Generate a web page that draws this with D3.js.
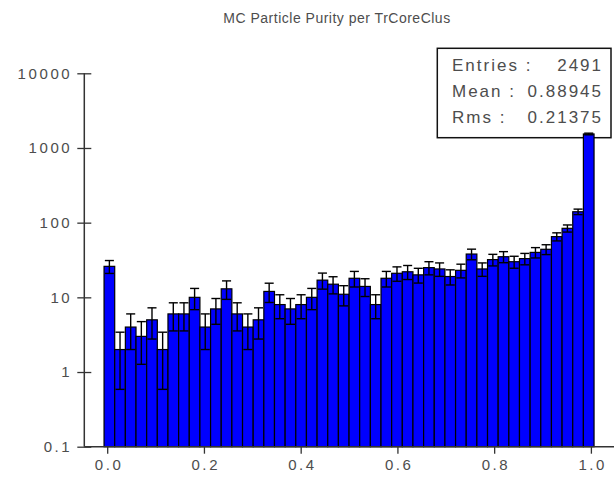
<!DOCTYPE html>
<html>
<head>
<meta charset="utf-8">
<script src="https://cdn.jsdelivr.net/npm/d3@7/dist/d3.min.js"></script>
<style>
  html, body { margin: 0; padding: 0; background: #fff; }
  svg { display: block; font-family: "Liberation Sans", Arial, sans-serif; }
</style>
</head>
<body>
<svg id="chart" width="614" height="491"></svg>
<script>
// ---- data ----
const title = "MC Particle Purity per TrCoreClus";
const binMin = -0.0065;
const binMax = 1.0065;
const counts = [26,2,4,3,5,2,6,6,10,4,7,13,
                6,4,5,12,8,7,8,10,17,15,11,
                18,14,8,18,21,22,20,25,24,19,23,
                38,24,32,35,30,33,40,44,65,84,140,
                1540];
const xTicks = [0.0, 0.2, 0.4, 0.6, 0.8, 1.0];
const yTicks = [0.1, 1, 10, 100, 1000, 10000];
const yTickLabels = ["0.1", "1", "10", "100", "1000", "10000"];
const statLabels = ["Entries :", "Mean :", "Rms :"];
const statValues = ["2491", "0.88945", "0.21375"];

// ---- layout ----
const svg = d3.select("#chart");
const W = 614, H = 491;
const x = d3.scaleLinear().domain([0, 1]).range([107.2, 590.9]);
const y = d3.scaleLog().domain([0.1, 10000]).range([446.7, 73.3]);
const axisX0 = 84.3, axisY0 = 446.7;
const nb = counts.length;
const bw = (binMax - binMin) / nb;
const bins = counts.map((c, i) => ({ lo: binMin + i * bw, hi: binMin + (i + 1) * bw, n: c }));
const textCol = "#4d4d4d";

// title
svg.append("text")
  .attr("x", 337).attr("y", 23)
  .attr("text-anchor", "middle")
  .attr("font-size", 14)
  .attr("letter-spacing", 0.5)
  .attr("fill", textCol)
  .text(title);

// stats box (drawn under bars)
const box = svg.append("g");
box.append("rect")
  .attr("x", 437.3).attr("y", 48.3)
  .attr("width", 611 - 437.3).attr("height", 137.7 - 48.3)
  .attr("fill", "#fff").attr("stroke", "#111").attr("stroke-width", 1.5);
const rowY = [71, 96.5, 123];
statLabels.forEach((s, i) => {
  box.append("text").attr("x", 452).attr("y", rowY[i])
    .attr("font-size", 17).attr("letter-spacing", 2).attr("fill", textCol).text(s);
  box.append("text").attr("x", 603).attr("y", rowY[i])
    .attr("text-anchor", "end")
    .attr("font-size", 17).attr("letter-spacing", 2).attr("fill", textCol).text(statValues[i]);
});

// bars
const barsG = svg.append("g");
barsG.selectAll("rect").data(bins).join("rect")
  .attr("x", d => x(d.lo))
  .attr("y", d => y(d.n))
  .attr("width", d => x(d.hi) - x(d.lo))
  .attr("height", d => y(0.1) - y(d.n))
  .attr("fill", "#0000ff")
  .attr("stroke", "#000")
  .attr("stroke-width", 1.2);

// error bars
const errG = svg.append("g").attr("stroke", "#000").attr("stroke-width", 1.4);
bins.forEach(d => {
  const cx = x((d.lo + d.hi) / 2);
  const e = Math.sqrt(d.n);
  const top = y(d.n + e);
  const lowV = d.n - e;
  const bot = lowV > 0.1 ? y(lowV) : y(0.1);
  const half = (x(d.hi) - x(d.lo)) / 2 - 0.8;
  errG.append("line").attr("x1", cx).attr("x2", cx).attr("y1", top).attr("y2", bot);
  errG.append("line").attr("x1", cx - half).attr("x2", cx + half).attr("y1", top).attr("y2", top);
  if (lowV > 0.1) {
    errG.append("line").attr("x1", cx - half).attr("x2", cx + half).attr("y1", bot).attr("y2", bot);
  }
});

// y axis
const yAxis = d3.axisLeft(y).tickValues(yTicks)
  .tickFormat((d, i) => yTickLabels[i]).tickSize(7).tickPadding(5);
const gy = svg.append("g").attr("transform", `translate(${axisX0},0)`).call(yAxis);
gy.select(".domain").remove();
gy.selectAll(".tick line").attr("x1", 7).attr("stroke", "#333").attr("stroke-width", 1.3);
gy.selectAll(".tick text").attr("font-size", 15).attr("letter-spacing", 2.6)
  .attr("fill", textCol).attr("font-family", "Liberation Sans, Arial, sans-serif");
svg.append("line").attr("x1", axisX0).attr("x2", axisX0).attr("y1", y(10000)).attr("y2", axisY0)
  .attr("stroke", "#333").attr("stroke-width", 1.5);

// x axis
const xAxis = d3.axisBottom(x).tickValues(xTicks).tickFormat(d3.format(".1f")).tickSize(7).tickPadding(6);
const gx = svg.append("g").attr("transform", `translate(0,${axisY0})`).call(xAxis);
gx.select(".domain").remove();
gx.selectAll(".tick line").attr("stroke", "#333").attr("stroke-width", 1.3);
gx.selectAll(".tick text").attr("font-size", 15).attr("letter-spacing", 2.6)
  .attr("fill", textCol).attr("font-family", "Liberation Sans, Arial, sans-serif")
  .attr("dx", 1.3);
svg.append("line").attr("x1", axisX0).attr("x2", W).attr("y1", axisY0).attr("y2", axisY0)
  .attr("stroke", "#333").attr("stroke-width", 1.5);
</script>
</body>
</html>
